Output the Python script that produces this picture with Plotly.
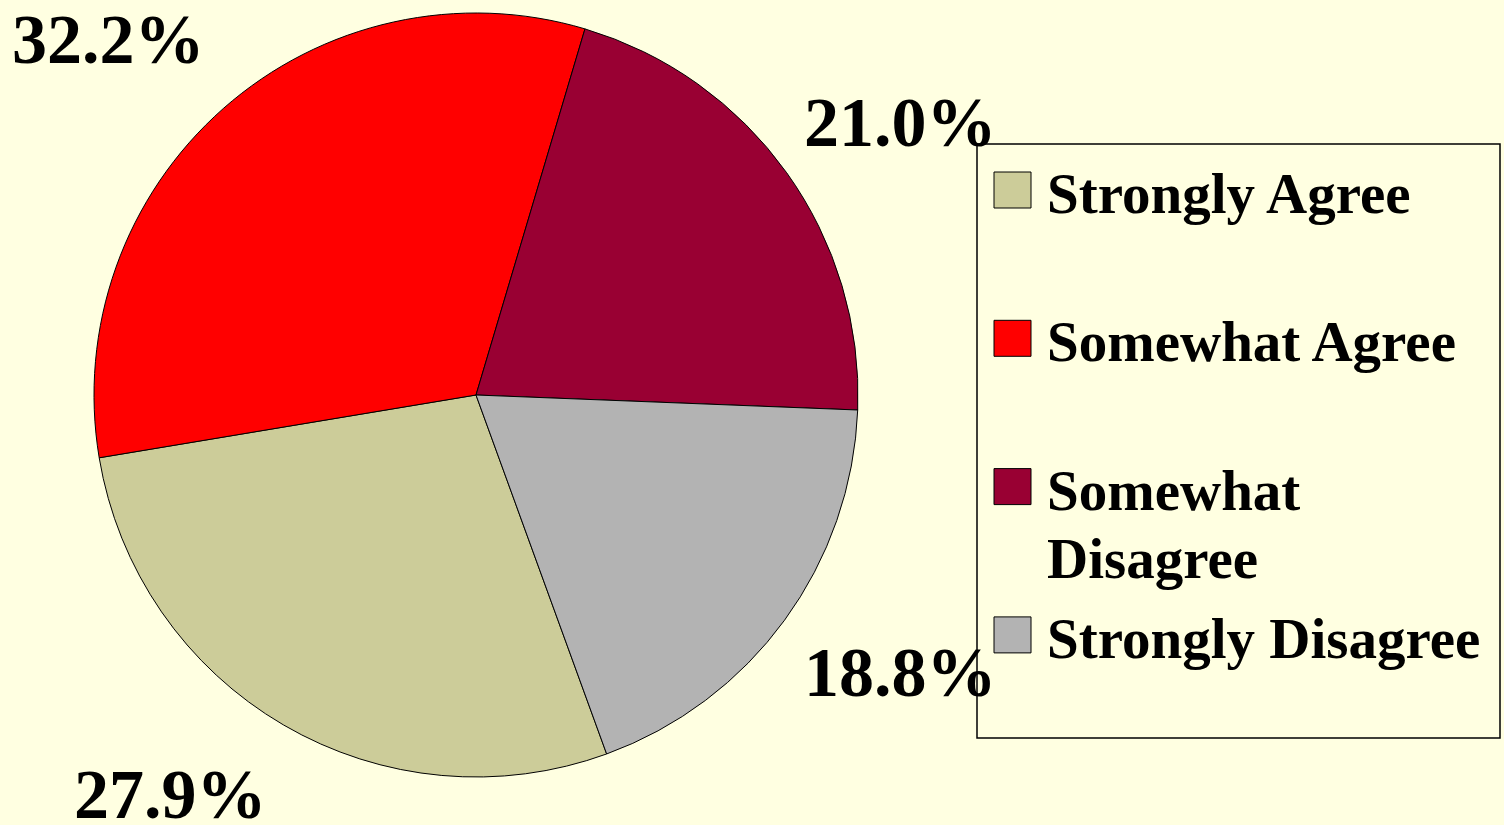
import plotly.graph_objects as go

#%% Data
labels = ["Strongly Agree", "Somewhat Agree", "Somewhat Disagree", "Strongly Disagree"]
legend_text = ["Strongly Agree", "Somewhat Agree", "Somewhat<br>Disagree", "Strongly Disagree"]
values = [27.9, 32.2, 21.0, 18.8]
colors = ["#CCCC99", "#FF0000", "#990033", "#B3B3B3"]

#%% Layout config
W, H = 1504, 825
bg = "#FFFFE1"
font_family = "Liberation Serif, Times New Roman, serif"

# where the percent labels sit (pixel centres)
label_pos = [(170, 794), (108, 40), (900, 122), (900, 672)]
line_gap = 68  # legend line spacing, px


def px_x(x):
    return x / W


def px_y(y):
    return 1 - y / H


#%% Plot
fig = go.Figure()
fig.add_trace(go.Pie(
    labels=labels,
    values=values,
    sort=False,
    direction="clockwise",
    rotation=160,
    textinfo="none",
    hoverinfo="label+percent",
    marker=dict(colors=colors, line=dict(color="black", width=1)),
    domain=dict(x=[px_x(94), px_x(858)], y=[px_y(777), px_y(13)]),
    showlegend=False,
))

# percent labels
for v, (x, y) in zip(values, label_pos):
    fig.add_annotation(
        x=px_x(x), y=px_y(y), xref="paper", yref="paper",
        text=f"<b>{v:.1f}%</b>", showarrow=False,
        xanchor="center", yanchor="middle",
        font=dict(family=font_family, size=70, color="black"),
    )

# legend box
shapes = [dict(type="rect", xref="paper", yref="paper",
               x0=px_x(977), x1=px_x(1500), y0=px_y(738), y1=px_y(144),
               line=dict(color="black", width=1.5), layer="above")]

# legend entries
for i, (txt, c) in enumerate(zip(legend_text, colors)):
    top = 172 + i * 148.3
    shapes.append(dict(type="rect", xref="paper", yref="paper",
                       x0=px_x(994), x1=px_x(1031), y0=px_y(top + 36), y1=px_y(top),
                       fillcolor=c, line=dict(color="black", width=1)))
    for j, line in enumerate(txt.split("<br>")):
        fig.add_annotation(
            x=px_x(1045), y=px_y(top - 12 + j * line_gap), xref="paper", yref="paper",
            text=f"<b>{line}</b>", showarrow=False, align="left",
            xanchor="left", yanchor="top",
            font=dict(family=font_family, size=57, color="black"),
        )

fig.update_layout(
    width=W, height=H,
    margin=dict(l=0, r=0, t=0, b=0),
    paper_bgcolor=bg, plot_bgcolor=bg,
    shapes=shapes,
)

# drop the default body margin so the figure fills the window
fig.write_html("out.html", config={"displayModeBar": False},
               post_script="document.body.style.margin='0';")
